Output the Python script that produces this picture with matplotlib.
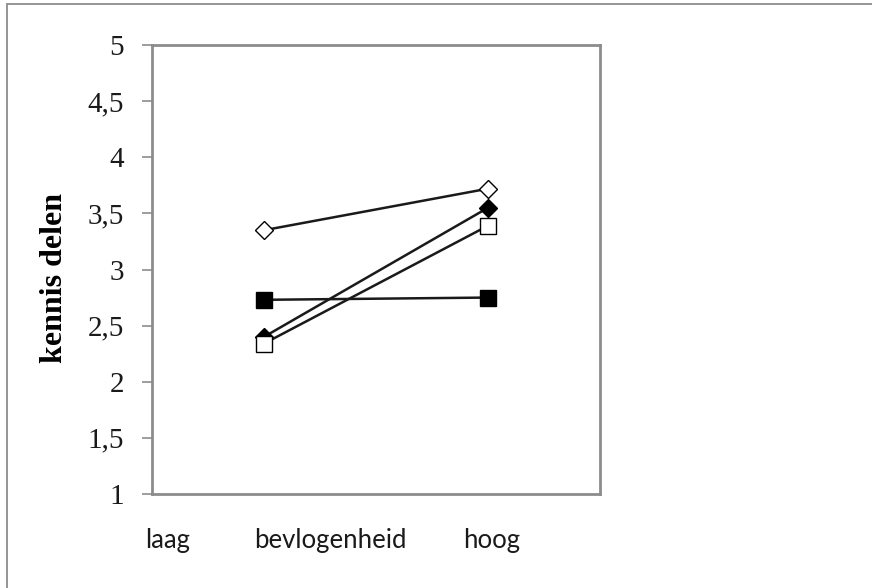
import matplotlib
matplotlib.use('Agg')
import matplotlib.pyplot as plt
from matplotlib.patches import Rectangle
from matplotlib.ticker import FuncFormatter

# waarden per reeks: (laag, hoog)
x_pos = [1, 2]
open_diamond = [3.35, 3.72]
filled_diamond = [2.40, 3.55]
open_square = [2.34, 3.39]
filled_square = [2.73, 2.75]

y_ticks = [1, 1.5, 2, 2.5, 3, 3.5, 4, 4.5, 5]
x_labels = ['laag', 'bevlogenheid', 'hoog']

fig = plt.figure(figsize=(8.72, 5.88), dpi=100)
ax = fig.add_axes([152 / 872, 1 - 494 / 588, 448 / 872, 449 / 588])

# buitenrand van de grafiek
fig.patches.append(Rectangle((7 / 872, -0.1), 1.2, 1 - 4 / 588 + 0.1,
                             transform=fig.transFigure, fill=False,
                             edgecolor='#8c8c8c', linewidth=1.3))

line_kw = dict(color='#1a1a1a', linewidth=1.8, markeredgecolor='black',
               markeredgewidth=1.0)
ax.plot(x_pos, filled_square, marker='s', markersize=11,
        markerfacecolor='black', **line_kw)
ax.plot(x_pos, filled_diamond, marker='D', markersize=9.5,
        markerfacecolor='black', **line_kw)
ax.plot(x_pos, open_square, marker='s', markersize=11,
        markerfacecolor='white', **line_kw)
ax.plot(x_pos, open_diamond, marker='D', markersize=9.5,
        markerfacecolor='white', **line_kw)

ax.set_xlim(0.5, 2.5)
ax.set_ylim(1, 5)
ax.set_xticks([])
ax.set_yticks(y_ticks)
ax.yaxis.set_major_formatter(FuncFormatter(lambda v, p: ('%g' % v).replace('.', ',')))
ax.tick_params(axis='y', direction='out', length=7, width=1.2, color='#8c8c8c',
               pad=13, labelsize=21, labelcolor='#1a1a1a')
for lbl in ax.get_yticklabels():
    lbl.set_fontfamily('Liberation Serif')

for side in ['left', 'bottom', 'right', 'top']:
    ax.spines[side].set_color('#8c8c8c')
    ax.spines[side].set_linewidth(2.0)

fig.text(55 / 872, 1 - 278 / 588, 'kennis delen', rotation=90, ha='center',
         va='center', fontsize=23, fontweight='bold', family='Liberation Serif')

label_x = [145, 254, 463]
for lx, txt in zip(label_x, x_labels):
    fig.text(lx / 872, 1 - 548 / 588, txt, ha='left', va='baseline',
             fontsize=18.5, family='Lato', color='#1a1a1a')

fig.savefig('out.png', dpi=100)
